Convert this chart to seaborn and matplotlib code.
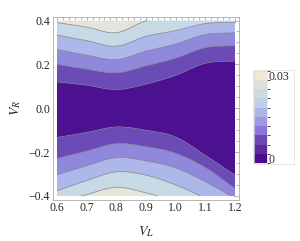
import numpy as np
import matplotlib
matplotlib.use("Agg")
import matplotlib.pyplot as plt
import seaborn as sns
from matplotlib.colors import ListedColormap, BoundaryNorm
from matplotlib.patches import Rectangle
import matplotlib.colorbar as mcolorbar

# ---------------- data ----------------
vl_knots = [0.6, 0.7, 0.8, 0.9, 1.0, 1.1, 1.2]
contour_levels = [0.005, 0.010, 0.015, 0.020, 0.025]
# V_R position of each contour level, upper branch
upper_005 = [0.120, 0.105, 0.085, 0.110, 0.150, 0.205, 0.216]
upper_010 = [0.200, 0.178, 0.161, 0.193, 0.228, 0.276, 0.285]
upper_015 = [0.268, 0.242, 0.222, 0.260, 0.293, 0.336, 0.344]
upper_020 = [0.334, 0.308, 0.283, 0.328, 0.354, 0.386, 0.392]
upper_025 = [0.390, 0.369, 0.344, 0.398, 0.420, 0.437, 0.445]
# lower branch
lower_005 = [-0.133, -0.110, -0.085, -0.100, -0.131, -0.215, -0.305]
lower_010 = [-0.229, -0.195, -0.161, -0.175, -0.205, -0.270, -0.365]
lower_015 = [-0.304, -0.262, -0.225, -0.240, -0.272, -0.335, -0.410]
lower_020 = [-0.376, -0.330, -0.290, -0.305, -0.350, -0.410, -0.470]
lower_025 = [-0.435, -0.393, -0.360, -0.385, -0.425, -0.470, -0.530]

x_ticks = [0.6, 0.7, 0.8, 0.9, 1.0, 1.1, 1.2]
y_ticks = [-0.4, -0.2, 0.0, 0.2, 0.4]
legend_labels = ["0", "0.03"]
legend_swatches = ["#4a0e8c", "#5b2a9e", "#6c47b2", "#8a78d8", "#9d98e2",
                   "#aeb3e8", "#bdd0ea", "#cedbe3", "#dfe0da", "#f1e8d6"]
region_colors = ["#4b1190", "#6b4cb7", "#9088db", "#aeb7ea", "#c8d9e6", "#e5e3da"]

# ---------------- style ----------------
sns.set_style("white")
plt.rcParams["font.family"] = ["Liberation Serif", "DejaVu Serif"]
plt.rcParams["mathtext.fontset"] = "stix"
plt.rcParams["axes.unicode_minus"] = True


def hermite(xk, yk, x):
    xk = np.asarray(xk, float)
    yk = np.asarray(yk, float)
    h = xk[1] - xk[0]
    m = np.gradient(yk, xk)
    idx = np.clip(((x - xk[0]) // h).astype(int), 0, len(xk) - 2)
    t = (x - xk[idx]) / h
    h00 = 2 * t**3 - 3 * t**2 + 1
    h10 = t**3 - 2 * t**2 + t
    h01 = -2 * t**3 + 3 * t**2
    h11 = t**3 - t**2
    return h00 * yk[idx] + h10 * h * m[idx] + h01 * yk[idx + 1] + h11 * h * m[idx + 1]


# ---------------- build field ----------------
vl = np.linspace(0.6, 1.2, 301)
vr = np.linspace(-0.4, 0.4, 401)
uppers = [upper_005, upper_010, upper_015, upper_020, upper_025]
lowers = [lower_005, lower_010, lower_015, lower_020, lower_025]
U = [hermite(vl_knots, u, vl) for u in uppers]
L = [hermite(vl_knots, l, vl) for l in lowers]
Z = np.zeros((len(vr), len(vl)))
top_val = 0.0299
for j in range(len(vl)):
    center = 0.5 * (U[0][j] + L[0][j])
    xp = [-1.0] + [L[k][j] for k in range(4, -1, -1)] + [center] + [U[k][j] for k in range(5)] + [1.0]
    fp = [top_val] + contour_levels[::-1] + [0.0] + contour_levels + [top_val]
    Z[:, j] = np.interp(vr, xp, fp)

fill_levels = [0.0] + contour_levels + [0.03]

# ---------------- figure ----------------
fig = plt.figure(figsize=(3.0, 2.41), dpi=100)
ax = fig.add_axes([53 / 300, 41.5 / 241, 186 / 300, 182.5 / 241])
ax.contourf(vl, vr, Z, levels=fill_levels, colors=region_colors, antialiased=True)
ax.contour(vl, vr, Z, levels=contour_levels, colors="#6e6e7a", linewidths=0.55, alpha=0.75)

ax.set_xlim(0.5865, 1.2135)
ax.set_ylim(-0.416, 0.416)
ax.set_xticks(x_ticks)
ax.set_xticklabels([f"{t:.1f}" for t in x_ticks])
ax.set_yticks(y_ticks)
ax.set_yticklabels([f"{t:.1f}".replace("-", "\u2212") for t in y_ticks])
ax.set_xticks(np.arange(0.6, 1.2001, 0.02), minor=True)
ax.set_yticks(np.arange(-0.4, 0.4001, 0.05), minor=True)
ax.tick_params(which="both", direction="in", top=True, right=True, color="#9a9a9a", width=0.5)
ax.tick_params(which="major", length=4, labelsize=8.5, pad=2)
ax.tick_params(which="minor", length=2)
for s in ax.spines.values():
    s.set_color("#aaaaaa")
    s.set_linewidth(0.6)
ax.set_xlabel("$V_L$", fontsize=10, labelpad=7)
ax.set_ylabel("$V_R$", fontsize=10, labelpad=4)

# legend bar
cax = fig.add_axes([254 / 300, 78 / 241, 12.7 / 300, 92.3 / 241])
bounds = np.linspace(0, 0.03, 11)
cb = mcolorbar.ColorbarBase(cax, cmap=ListedColormap(legend_swatches),
                            norm=BoundaryNorm(bounds, 10), ticks=[0.0015, 0.0285])
cb.set_ticklabels(legend_labels)
cax.tick_params(length=0, labelsize=8.5, pad=1)
cb.outline.set_edgecolor("#dddddd")
cb.outline.set_linewidth(0.5)
fig.patches.append(Rectangle((253 / 300, 77.5 / 241), 41 / 300, 93.3 / 241, fill=False,
                             ec="#e2e2e2", lw=0.6, transform=fig.transFigure, figure=fig))

fig.savefig("out.png", dpi=100)
